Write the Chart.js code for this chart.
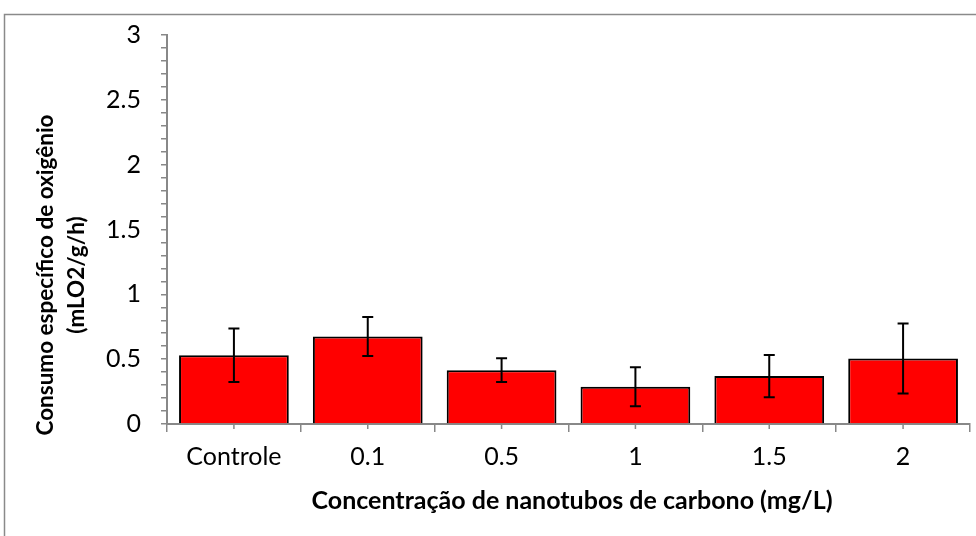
<!DOCTYPE html>
<html>
<head>
<meta charset="utf-8">
<script src="https://cdn.jsdelivr.net/npm/chart.js@4.4.1/dist/chart.umd.min.js"></script>
<style>
  html, body { margin: 0; padding: 0; background: #ffffff; }
  #wrap { position: relative; width: 976px; height: 536px; }
</style>
</head>
<body>
<div id="wrap"><canvas id="c" width="976" height="536"></canvas></div>
<script>
const categories = ['Controle', '0.1', '0.5', '1', '1.5', '2'];
const means = [0.53, 0.675, 0.415, 0.287, 0.37, 0.506];
const errors = [0.207, 0.15, 0.092, 0.15, 0.163, 0.27];
const yTitleLines = ['Consumo específico de oxigênio', '(mLO2/g/h)'];
const xTitleText = 'Concentração de nanotubos de carbono (mg/L)';

const AXIS = '#888888';
const FONT = 'Lato, Carlito, Calibri, sans-serif';

const decor = {
  id: 'decor',
  beforeDraw(chart) {
    const ctx = chart.ctx;
    ctx.save();
    ctx.strokeStyle = '#8a8a8a';
    ctx.lineWidth = 1.5;
    ctx.beginPath();
    ctx.moveTo(4.5, 536);
    ctx.lineTo(4.5, 14.5);
    ctx.lineTo(976, 14.5);
    ctx.stroke();
    ctx.restore();
  },
  afterDatasetsDraw(chart) {
    const ctx = chart.ctx;
    const ys = chart.scales.y;
    const xs = chart.scales.x;
    const meta = chart.getDatasetMeta(0);
    ctx.save();
    // centre ticks on the category axis
    ctx.strokeStyle = AXIS;
    ctx.lineWidth = 1.5;
    xs.ticks.forEach((t, i) => {
      const px = xs.getPixelForTick(i);
      ctx.beginPath();
      ctx.moveTo(px, xs.top);
      ctx.lineTo(px, xs.top + 5);
      ctx.stroke();
    });
    // error bars
    ctx.strokeStyle = '#000000';
    ctx.lineWidth = 2;
    meta.data.forEach((bar, i) => {
      const x = bar.x;
      const yHi = ys.getPixelForValue(means[i] + errors[i]);
      const yLo = ys.getPixelForValue(means[i] - errors[i]);
      const cap = 5.5;
      ctx.beginPath();
      ctx.moveTo(x, yHi); ctx.lineTo(x, yLo);
      ctx.moveTo(x - cap, yHi); ctx.lineTo(x + cap, yHi);
      ctx.moveTo(x - cap, yLo); ctx.lineTo(x + cap, yLo);
      ctx.stroke();
    });
    ctx.restore();
  },
  afterDraw(chart) {
    const ctx = chart.ctx;
    ctx.save();
    ctx.fillStyle = '#000000';
    ctx.textAlign = 'center';
    ctx.textBaseline = 'middle';
    // y title
    ctx.font = 'bold 22.5px ' + FONT;
    const cy = 275;
    [46, 77].forEach((cx, i) => {
      ctx.save();
      ctx.translate(cx, cy);
      ctx.rotate(-Math.PI / 2);
      ctx.fillText(yTitleLines[i], 0, 0);
      ctx.restore();
    });
    // x title
    ctx.font = 'bold 25px ' + FONT;
    ctx.fillText(xTitleText, 572, 501);
    ctx.restore();
  }
};

new Chart(document.getElementById('c'), {
  type: 'bar',
  data: {
    labels: categories,
    datasets: [{
      data: means,
      backgroundColor: '#ff0000',
      borderColor: '#000000',
      borderWidth: 2,
      barPercentage: 0.82,
      categoryPercentage: 1
    }]
  },
  options: {
    responsive: false,
    animation: false,
    devicePixelRatio: 1,
    layout: { padding: { top: 33, right: 6, left: 0, bottom: 0 } },
    plugins: { legend: { display: false }, tooltip: { enabled: false } },
    scales: {
      x: {
        offset: true,
        grid: { display: true, drawOnChartArea: false, drawTicks: true, tickLength: 8, color: AXIS, lineWidth: 1.5, offset: true },
        border: { display: true, color: AXIS, width: 2 },
        ticks: { color: '#000000', font: { family: FONT, size: 25 }, padding: 10, maxRotation: 0 },
        title: { display: false, text: xTitleText },
        afterFit(s) { s.height = 112; }
      },
      y: {
        min: 0, max: 3,
        grid: { display: true, drawOnChartArea: false, drawTicks: true, tickLength: 6, color: AXIS, lineWidth: 1.5 },
        border: { display: true, color: AXIS, width: 2 },
        ticks: {
          stepSize: 0.1,
          autoSkip: false,
          color: '#000000',
          font: { family: FONT, size: 25 },
          padding: 20,
          callback(v) {
            const k = Math.round(v * 10);
            return k % 5 === 0 ? String(k / 10) : '';
          }
        },
        title: { display: false, text: yTitleLines },
        afterFit(s) { s.width = 167; }
      }
    }
  },
  plugins: [decor]
});
</script>
</body>
</html>
